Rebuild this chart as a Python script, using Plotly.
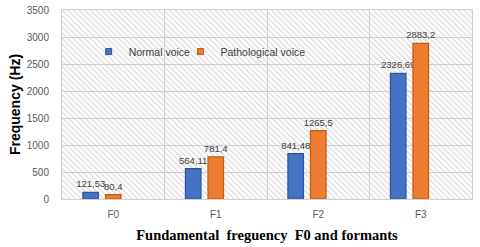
import plotly.graph_objects as go

categories = ["F0", "F1", "F2", "F3"]
normal_voice = [121.53, 564.11, 841.48, 2326.69]
pathological_voice = [80.4, 781.4, 1265.5, 2883.2]
empty_series = [0, 0, 0, 0]  # unused third series slot (as in the original chart)
y_ticks = [0, 500, 1000, 1500, 2000, 2500, 3000, 3500]
series_names = ["Normal voice", "Pathological voice"]

def fmt(v):
    return str(v).replace(".", ",")

BLUE = "#4472c4"
BLUE_EDGE = "#2f5597"
ORANGE = "#ed7d31"
ORANGE_EDGE = "#c55a11"
LABEL_FONT = "Liberation Sans"

fig = go.Figure()

# hatched plot-area background (on hidden base axes)
fig.add_trace(go.Bar(
    x=[0], y=[1], width=[1], xaxis="x", yaxis="y",
    marker=dict(color="rgba(0,0,0,0)", line=dict(width=0),
                pattern=dict(shape="\\", fgcolor="#c4c4c4", bgcolor="rgba(0,0,0,0)",
                             size=4, solidity=0.4)),
    showlegend=False, hoverinfo="skip",
))

legends = ["legend", "legend2"]
for name, vals, col, edge, lg in [(series_names[0], normal_voice, BLUE, BLUE_EDGE, legends[0]),
                                  (series_names[1], pathological_voice, ORANGE, ORANGE_EDGE, legends[1])]:
    fig.add_trace(go.Bar(
        x=categories, y=vals, name=name, xaxis="x2", yaxis="y2",
        marker=dict(color=col, line=dict(color=edge, width=1.2)),
        text=[fmt(v) for v in vals], textposition="outside", constraintext="none",
        textfont=dict(size=9.5, color="#404040", family=LABEL_FONT),
        cliponaxis=False, showlegend=False,
    ))
    fig.add_trace(go.Scatter(
        x=[None], y=[None], name=name, mode="markers", xaxis="x2", yaxis="y2",
        legend=lg,
        marker=dict(symbol="square", size=6, color=col, line=dict(color=edge, width=1)),
    ))

fig.add_trace(go.Bar(
    x=categories, y=empty_series, xaxis="x2", yaxis="y2",
    marker=dict(color="rgba(0,0,0,0)", line=dict(width=0)),
    showlegend=False, hoverinfo="skip",
))

leg_common = dict(orientation="h", yanchor="middle", xanchor="left",
                  bgcolor="rgba(0,0,0,0)", font=dict(size=10.5, color="#404040"),
                  itemwidth=30)

fig.update_layout(
    width=480, height=247,
    margin=dict(l=62, r=8, t=10, b=48, autoexpand=False),
    paper_bgcolor="white", plot_bgcolor="white",
    barmode="group", bargap=0.34, bargroupgap=0.31,
    font=dict(family="Liberation Sans", color="#595959"),
    xaxis=dict(range=[-0.5, 0.5], visible=False, fixedrange=True),
    yaxis=dict(range=[0, 1], visible=False, fixedrange=True),
    xaxis2=dict(overlaying="x", anchor="y2", side="bottom", automargin=False,
                type="category", tickson="boundaries", showgrid=True,
                gridcolor="#d0d0d0", gridwidth=1, ticks="", ticklabelstandoff=6,
                showline=True, linecolor="#d0d0d0", mirror=True,
                tickfont=dict(size=10, color="#595959"),
                title=dict(text="<b>Fundamental\u00a0 freguency\u00a0 F0 and formants</b>",
                           font=dict(family="Liberation Serif", size=14.5, color="black"),
                           standoff=10)),
    yaxis2=dict(overlaying="y", anchor="x2", side="left", automargin=False,
                range=[0, 3500], tickvals=y_ticks, showgrid=True,
                gridcolor="#d0d0d0", gridwidth=1, ticks="", ticklabelstandoff=10,
                showline=True, linecolor="#d0d0d0", mirror=True, zeroline=False,
                tickfont=dict(size=10, color="#595959"),
                title=dict(text="<b>Frequency (Hz)</b>",
                           font=dict(size=14, color="black"), standoff=2)),
    legend=dict(x=0.065, y=0.78, **leg_common),
    legend2=dict(x=0.289, y=0.78, **leg_common),
)

fig.write_html("out.html", config={"displayModeBar": False},
               post_script="document.body.style.margin='0';document.body.style.padding='0';")
